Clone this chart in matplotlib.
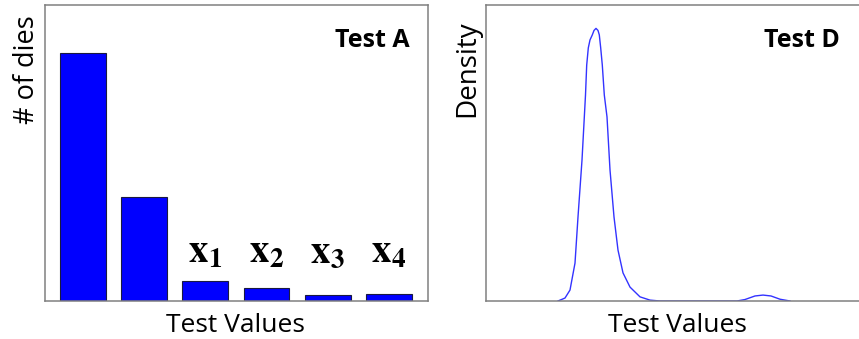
import matplotlib.pyplot as plt

plt.rcParams['font.family'] = ['Open Sans', 'DejaVu Sans']
plt.rcParams['mathtext.fontset'] = 'stix'

# Test A: die counts per test-value bin
bin_pos = [0, 1, 2, 3, 4, 5]
die_counts = [100.5, 42.2, 8.1, 5.3, 2.4, 2.8]
bin_labels = [None, None, r'$\mathbf{x}_\mathbf{1}$', r'$\mathbf{x}_\mathbf{2}$',
              r'$\mathbf{x}_\mathbf{3}$', r'$\mathbf{x}_\mathbf{4}$']

# Test D: density curve
test_vals = [7.2, 7.9, 8.4, 8.9, 9.2, 9.6, 9.95, 10.07, 10.23, 10.4, 10.63, 10.8, 11.0,
             11.2, 11.33, 11.47, 11.63, 11.83, 12.1, 12.4, 12.8, 13.2, 13.7, 14.4,
             15.4, 16.4, 17.4,
             25.1, 25.9, 26.9, 27.7, 28.5, 29.4, 30.4]
density = [0.0, 0.01, 0.037, 0.128, 0.284, 0.476, 0.696, 0.797, 0.855, 0.882, 0.899,
           0.914, 0.921, 0.914, 0.899, 0.855, 0.797, 0.696, 0.622, 0.443, 0.284, 0.172,
           0.095, 0.047, 0.014, 0.003, 0.0,
           0.0, 0.005, 0.017, 0.02, 0.017, 0.006, 0.0]

fig = plt.figure(figsize=(8.59, 3.39), dpi=100)
W, H = 859, 339

def px_axes(x0, y0, x1, y1):
    return fig.add_axes([x0 / W, 1 - y1 / H, (x1 - x0) / W, (y1 - y0) / H])

spine_col = '#808080'

# ---- left panel
ax1 = px_axes(45, 5, 428, 301)
ax1.bar(bin_pos, die_counts, width=0.75, color='#0000FF', edgecolor='#1a1a40', linewidth=0.8)
ax1.set_xlim(-0.62, 5.64)
ax1.set_ylim(0, 120)
for x, lab in zip(bin_pos, bin_labels):
    if lab:
        ax1.text(x, 15.4, lab, ha='center', va='baseline', fontsize=28)
ax1.text(0.953, 0.858, 'Test A', transform=ax1.transAxes, ha='right', va='baseline',
         fontsize=18, fontweight='bold')

# ---- right panel
ax2 = px_axes(486, 5, 880, 301)
ax2.plot(test_vals, density, color='#3333FF', linewidth=1.0, zorder=1)
ax2.set_xlim(0, 39.4)
ax2.set_ylim(0, 1.0)
ax2.text(35.4, (301 - 47) / 296, 'Test D', ha='right', va='baseline',
         fontsize=18, fontweight='bold')

for ax in (ax1, ax2):
    ax.set_xticks([])
    ax.set_yticks([])
    for s in ax.spines.values():
        s.set_color(spine_col)
        s.set_linewidth(1.1)
        s.set_zorder(3)

fig.text(235 / W, 1 - 332 / H, 'Test Values', ha='center', va='baseline', fontsize=19)
fig.text(677 / W, 1 - 332 / H, 'Test Values', ha='center', va='baseline', fontsize=19)
fig.text(27 / W, 1 - 70 / H, '# of dies', ha='center', va='center', rotation=90, fontsize=19.5)
fig.text(467 / W, 1 - 69 / H, 'Density', ha='center', va='center', rotation=90, fontsize=20)

fig.savefig('out.png', dpi=100)
